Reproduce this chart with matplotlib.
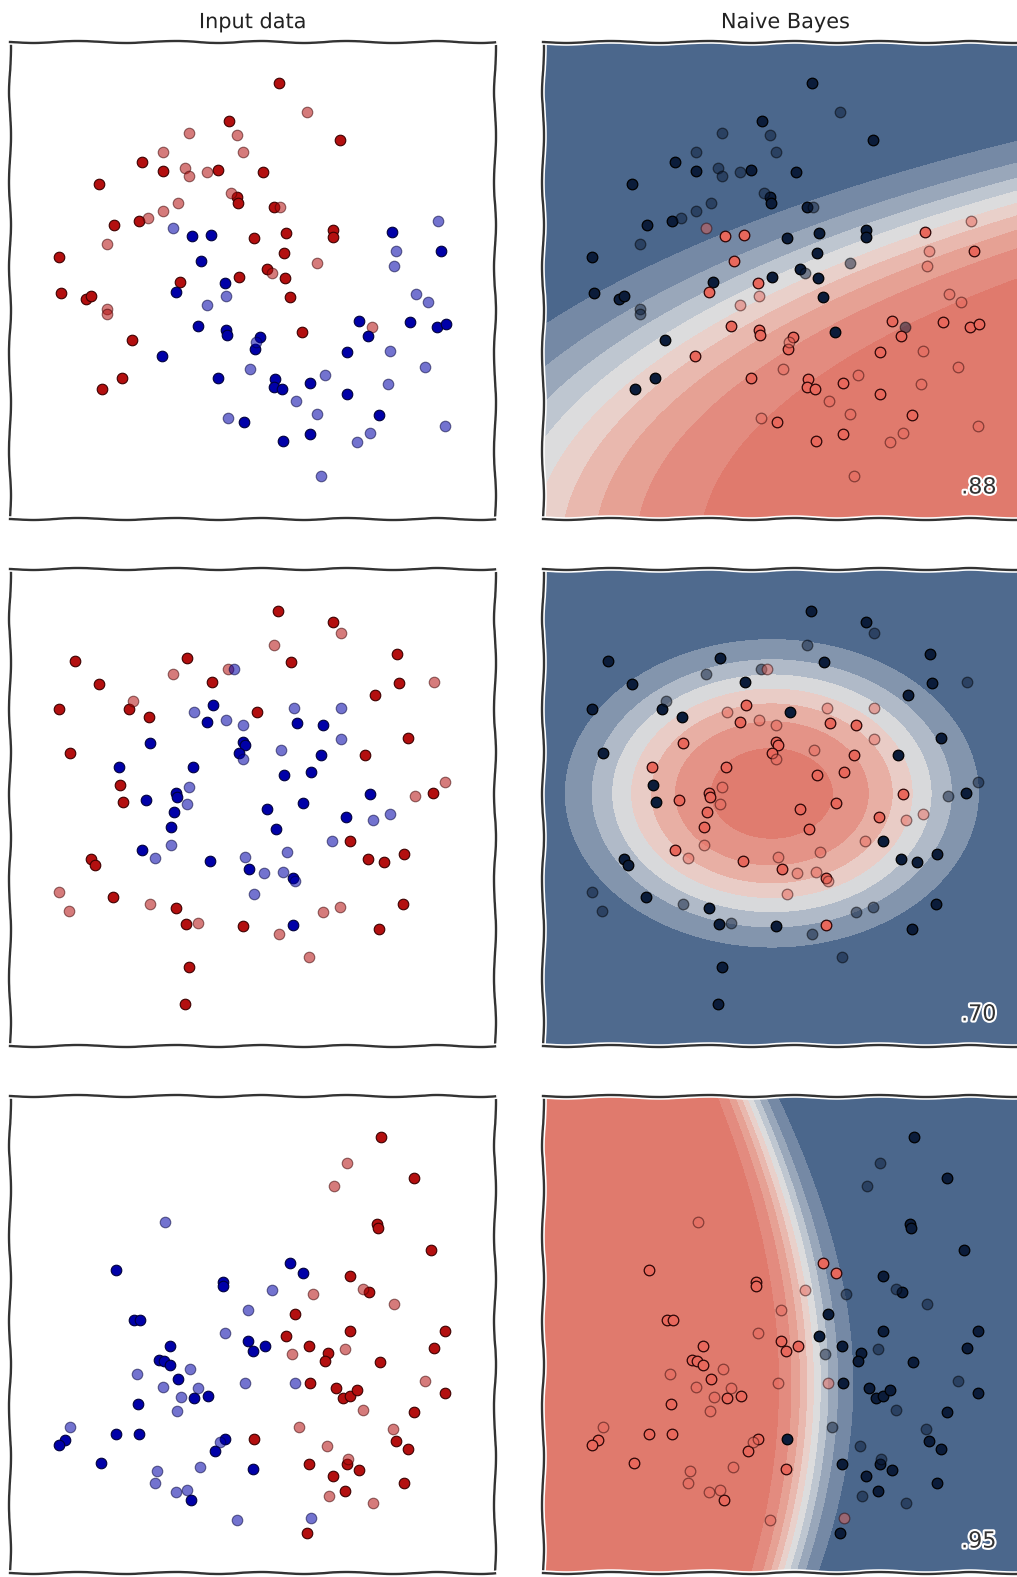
import numpy as np
import matplotlib
matplotlib.use("Agg")
import matplotlib.pyplot as plt
from matplotlib import patheffects
from matplotlib.colors import LinearSegmentedColormap

# Point kinds: R = class A train, r = class A test, B = class B train, b = class B test
moons_x = [2.19, 1.79, 2.27, 1.53, 2.33, 1.32, 1.53, 1.75, 1.79, 1.97,
           2.08, 0.89, 2.21, 2.27, 2.28, 1.68, 1.53, 1.38, 1.29, 1.04,
           1.63, 1.82, 2.01, 0.97, 2.44, 0.49, 1.91, 2.29, 1.70, 1.66,
           2.15, 2.16, 0.51, 0.76, 0.81, 0.97, 0.97, 1.97, 1.88, 2.16,
           2.17, 1.22, 2.46, 2.45, 1.52, 2.40, 1.12, 2.08, 0.92, 2.18,
           2.34, 2.69, 2.97, 3.30, 2.53, 2.64, 2.70, 2.76, 3.23, 3.23,
           3.82, 4.28, 3.86, 4.31, 3.84, 2.74, 3.07, 2.57, 2.62, 2.75,
           2.80, 4.06, 4.18, 2.92, 3.49, 3.62, 3.58, 4.00, 4.27, 4.36,
           2.50, 3.37, 3.80, 4.15, 2.65, 2.64, 2.72, 3.00, 3.15, 3.37,
           3.78, 2.86, 3.07, 3.69, 3.00, 2.73, 3.60, 3.47, 4.35, 3.11]
moons_y = [3.98, 3.86, 3.84, 3.67, 3.67, 3.57, 3.48, 3.51, 3.43, 3.47,
           3.49, 3.35, 3.26, 3.22, 3.16, 3.16, 3.08, 3.01, 2.98, 2.94,
           2.91, 2.83, 2.84, 2.75, 2.81, 2.62, 2.58, 2.42, 2.37, 2.27,
           2.36, 2.23, 2.26, 2.20, 2.23, 2.10, 2.05, 2.14, 1.93, 1.89,
           1.84, 1.79, 1.77, 1.70, 1.63, 1.50, 1.41, 1.41, 1.30, 1.01,
           0.97, 4.36, 4.07, 3.79, 3.47, 3.12, 3.12, 2.86, 2.89, 2.82,
           2.87, 2.98, 2.68, 2.68, 2.53, 2.66, 2.56, 2.50, 2.46, 2.41,
           2.22, 2.25, 2.17, 1.87, 1.98, 1.92, 1.83, 1.97, 1.92, 1.95,
           1.82, 1.67, 1.68, 1.52, 1.40, 1.32, 1.30, 1.36, 1.44, 1.25,
           1.35, 1.18, 1.05, 1.04, 0.85, 0.78, 0.86, 0.77, 0.93, 0.43]
moons_kind = ("RrrrrRRrrr" "RRrRRrrrRR" "bBBrRRBRRB" "BbRRRrrbBB" "BRbBBbRBRb"
              "BRrRRRrRRR" "BbbBbRrRrR" "RbbRBrBBBB" "BBbbBBBBbB" "bbbBBBbbbb")

circles_x = [0.65, 1.77, 1.63, 2.18, 2.24, 0.89, 2.02, 0.49, 1.23, 1.19,
             1.39, 1.84, 2.03, 1.97, 2.16, 2.33, 2.47, 1.40, 2.33, 2.35,
             2.29, 2.33, 1.83, 1.09, 1.79, 1.10, 1.66, 1.67, 1.77, 1.13,
             1.36, 1.64, 1.61, 1.61, 1.32, 1.45, 2.00, 2.35, 2.39, 0.81,
             0.85, 0.49, 0.59, 1.03, 1.40, 1.66, 1.76, 1.88, 2.33, 2.44,
             1.79, 1.75, 0.60, 2.68, 3.23, 3.31, 2.64, 2.81, 3.87, 3.89,
             4.24, 3.65, 2.84, 3.31, 2.87, 3.13, 3.31, 2.71, 3.11, 3.98,
             3.55, 2.74, 3.01, 4.35, 4.23, 4.05, 3.60, 2.57, 2.93, 3.36,
             3.80, 3.63, 2.66, 3.22, 3.40, 2.77, 3.58, 3.74, 3.94, 2.54,
             2.73, 2.83, 2.85, 3.13, 3.30, 3.93, 2.83, 2.69, 3.69, 2.99]
circles_y = [3.85, 3.88, 3.72, 3.77, 3.77, 3.62, 3.64, 3.37, 3.45, 3.37,
             3.29, 3.34, 3.41, 3.24, 3.26, 3.21, 3.34, 3.03, 3.04, 3.01,
             2.93, 2.87, 2.79, 2.79, 2.59, 2.61, 2.53, 2.49, 2.42, 2.44,
             2.46, 2.34, 2.19, 2.01, 1.96, 1.88, 1.85, 1.89, 1.77, 1.87,
             1.81, 1.54, 1.35, 1.49, 1.42, 1.38, 1.22, 1.23, 1.20, 1.52,
             0.79, 0.42, 2.93, 4.35, 4.24, 4.13, 4.01, 3.84, 3.92, 3.63,
             3.64, 3.51, 3.38, 3.38, 3.23, 3.21, 3.07, 2.96, 2.91, 3.08,
             2.91, 2.71, 2.74, 2.64, 2.53, 2.50, 2.52, 2.37, 2.43, 2.29,
             2.32, 2.26, 2.17, 2.05, 2.05, 1.94, 1.87, 1.84, 1.92, 1.73,
             1.74, 1.68, 1.65, 1.34, 1.39, 1.42, 1.21, 1.12, 1.17, 0.89]
circles_kind = ("RRrrbRRRrR" "RbBBbbRBBB" "BbBBbRBBbR" "BBBbBbBbBR" "RrrRrRRrRb"
                "RRRRRrrRRR" "rRbbBBbbBR" "RBBrRrBBBB" "bbBbRbRRRb" "bBbrrRBrRr")

linear_x = [1.55, 1.06, 2.13, 2.13, 2.38, 1.24, 1.30, 2.15, 1.60, 2.38,
            2.43, 1.49, 1.54, 1.60, 1.80, 1.27, 1.68, 1.53, 1.88, 1.71,
            1.84, 1.98, 2.35, 1.28, 1.67, 0.60, 1.06, 1.29, 0.55, 0.49,
            0.91, 2.10, 2.15, 2.05, 2.44, 2.43, 1.90, 1.47, 1.45, 1.66,
            1.77, 1.81, 2.27, 3.71, 3.37, 4.04, 3.24, 3.67, 3.68, 4.21,
            2.80, 2.93, 3.40, 2.62, 3.03, 3.53, 3.59, 3.84, 2.85, 4.35,
            3.40, 2.76, 2.55, 2.99, 4.24, 2.82, 3.35, 3.18, 3.15, 3.70,
            2.85, 3.00, 4.15, 4.35, 3.26, 3.33, 3.40, 3.47, 3.53, 4.04,
            2.89, 3.83, 3.86, 3.98, 3.17, 2.99, 3.38, 3.37, 3.49, 3.23,
            3.35, 3.19, 3.63, 3.94, 3.01, 2.97]
linear_y = [3.51, 3.03, 2.91, 2.87, 2.63, 2.53, 2.53, 2.40, 2.27, 2.32,
            2.22, 2.13, 2.12, 2.08, 2.04, 1.99, 1.94, 1.86, 1.85, 1.76,
            1.75, 1.77, 1.90, 1.69, 1.62, 1.46, 1.39, 1.39, 1.33, 1.28,
            1.10, 1.31, 1.34, 1.22, 1.34, 1.04, 1.06, 1.02, 0.90, 0.81,
            0.83, 0.73, 0.53, 4.36, 4.10, 3.95, 3.87, 3.49, 3.45, 3.23,
            3.10, 3.00, 2.97, 2.83, 2.79, 2.84, 2.81, 2.69, 2.59, 2.42,
            2.42, 2.37, 2.27, 2.27, 2.25, 2.19, 2.24, 2.20, 2.12, 2.11,
            1.90, 1.90, 1.92, 1.80, 1.85, 1.75, 1.77, 1.83, 1.63, 1.61,
            1.46, 1.44, 1.32, 1.24, 1.27, 1.09, 1.14, 1.09, 1.03, 0.97,
            0.82, 0.77, 0.70, 0.90, 0.55, 0.40]
linear_kind = ("bBBBbBBbBB" "BBBBbbBbbb" "BBbBbbBBBB" "BbBBRBbbbb" "bBbRrRrRRR"
               "BBRbrrRrRR" "RRBRRrrRRR" "bRrRRRRRrR" "rrRRrRrRRR" "RrrRbR")

scores = [".88", ".70", ".95"]
titles = ["Input data", "Naive Bayes"]

datasets = [
    (moons_x, moons_y, moons_kind),
    (circles_x, circles_y, circles_kind),
    (linear_x, linear_y, linear_kind),
]

# diverging map: salmon (class B likely) -> pale grey -> slate blue (class A likely)
band_cmap = LinearSegmentedColormap.from_list("nb", [
    (0.00, "#de7365"), (0.05, "#e07a6d"), (0.15, "#e38b7f"), (0.25, "#e6a194"),
    (0.35, "#e9b8ae"), (0.45, "#e9d0ca"), (0.55, "#dcdcdd"), (0.65, "#bec6d0"),
    (0.75, "#9aa8bb"), (0.85, "#7589a5"), (0.95, "#4b678c"), (1.00, "#46638a"),
])

XLIM = (0, 4.85)
YLIM = (0, 4.77)


def naive_bayes_proba(x, y, is_b, gx, gy):
    # gaussian naive bayes: per-class mean / variance on each feature
    loglik = []
    for cls in (False, True):
        m = is_b == cls
        mx, my = x[m].mean(), y[m].mean()
        vx, vy = x[m].var(), y[m].var()
        prior = m.mean()
        ll = (np.log(prior) - 0.5 * np.log(4 * np.pi ** 2 * vx * vy)
              - 0.5 * ((gx - mx) ** 2 / vx + (gy - my) ** 2 / vy))
        loglik.append(ll)
    return 1.0 / (1.0 + np.exp(loglik[1] - loglik[0]))


W, H = 1017, 1577
col_left = [10, 543]
row_top = [42, 569, 1096]
panel_w, panel_h = 485, 477

fig = plt.figure(figsize=(W / 100, H / 100), dpi=100)
fig.patch.set_facecolor("white")

axes = []
with plt.xkcd(scale=1, length=100, randomness=2):
    plt.rcParams["font.family"] = ["DejaVu Sans"]
    for top in row_top:
        row = []
        for left in col_left:
            ax = fig.add_axes([left / W, 1 - (top + panel_h) / H, panel_w / W, panel_h / H])
            for sp in ax.spines.values():
                sp.set_color("#333333")
                sp.set_linewidth(1.7)
            row.append(ax)
        axes.append(row)

gx, gy = np.meshgrid(np.linspace(*XLIM, 300), np.linspace(*YLIM, 300))

for i, (xs, ys, kind) in enumerate(datasets):
    x = np.array(xs)
    y = np.array(ys)
    kind = np.array(list(kind))
    is_b = np.isin(kind, ["B", "b"])
    test = np.char.islower(kind)
    train = ~test

    ax_in, ax_nb = axes[i]

    # input data
    for cls, col, edge in [(False, "#b30f0f", "#3d0000"), (True, "#0000a8", "#00003c")]:
        m = (is_b == cls)
        ax_in.scatter(x[m & train], y[m & train], s=58, c=col, edgecolors=edge,
                      linewidths=0.8, zorder=3)
        ax_in.scatter(x[m & test], y[m & test], s=58, c=col, edgecolors=edge,
                      linewidths=0.8, alpha=0.55, zorder=3)

    # naive bayes decision surface, bands of 0.1 over the range the posterior covers
    pa = naive_bayes_proba(x[train], y[train], is_b[train], gx, gy)
    lo = np.floor(pa.min() * 10) / 10
    levels = np.arange(lo, 1.0001, 0.1)
    ax_nb.contourf(gx, gy, pa, levels=levels, cmap=band_cmap, zorder=1)
    for cls, col, edge in [(False, "#0b1c3a", "#000000"), (True, "#e8685c", "#2b0505")]:
        m = (is_b == cls)
        ax_nb.scatter(x[m & train], y[m & train], s=58, c=col, edgecolors=edge,
                      linewidths=0.9, zorder=3)
        ax_nb.scatter(x[m & test], y[m & test], s=58, c=col, edgecolors=edge,
                      linewidths=0.9, alpha=0.5, zorder=3)
    ax_nb.text(0.935, 0.045, scores[i], transform=ax_nb.transAxes, ha="right", va="bottom",
               fontsize=16, color="#333333", zorder=5,
               path_effects=[patheffects.withStroke(linewidth=3, foreground="white")])

    for ax in (ax_in, ax_nb):
        ax.set_xlim(*XLIM)
        ax.set_ylim(*YLIM)
        ax.set_xticks([])
        ax.set_yticks([])

axes[0][0].set_title(titles[0], fontsize=15, color="#222222", pad=10)
axes[0][1].set_title(titles[1], fontsize=15, color="#222222", pad=10)

fig.savefig("out.png", dpi=100, facecolor="white")
